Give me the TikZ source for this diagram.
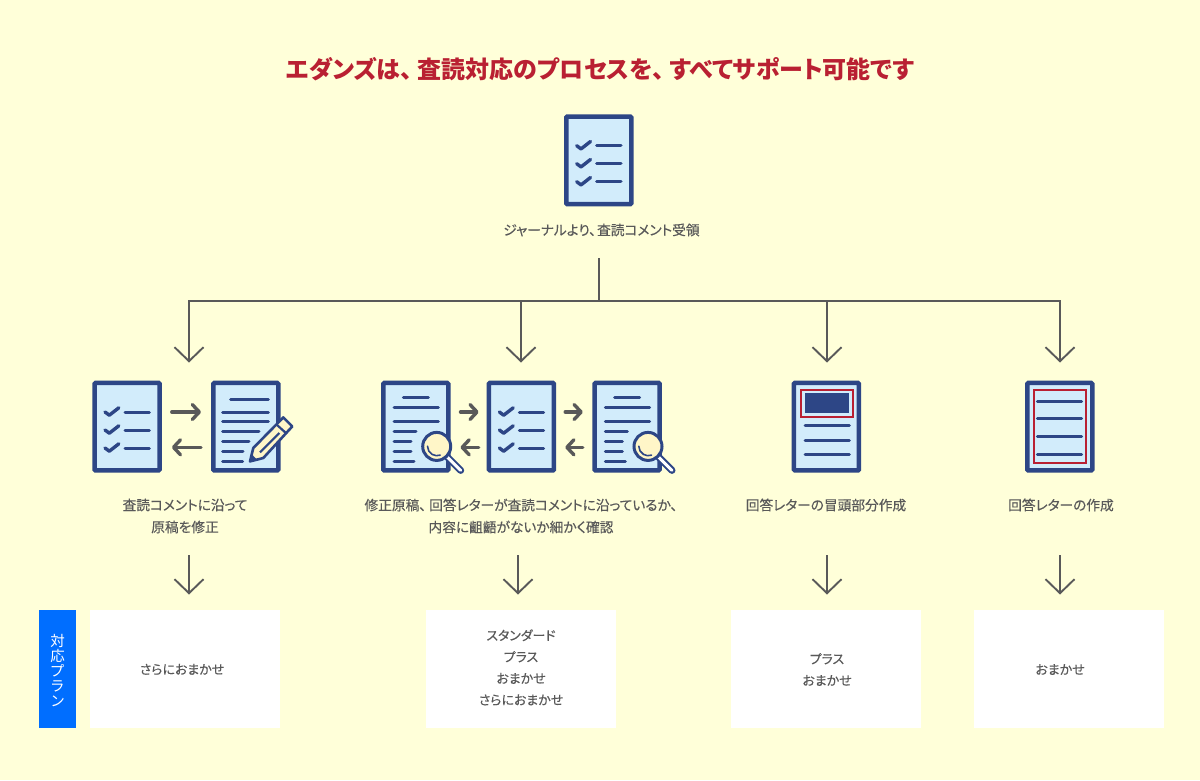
\documentclass[tikz,border=0pt]{standalone}
\usepackage{fontspec}
\setmainfont[RawFeature=+palt]{Noto Sans CJK JP}
\newfontfamily\midfont[RawFeature=+palt,FakeBold=0.25]{Noto Sans CJK JP}
\usetikzlibrary{arrows.meta}
\definecolor{paper}{HTML}{FFFFD9}
\definecolor{navy}{HTML}{2D4686}
\definecolor{sheet}{HTML}{D2ECFB}
\definecolor{crimson}{HTML}{B92032}
\definecolor{ink}{HTML}{595959}
\definecolor{planblue}{HTML}{006EFF}
\definecolor{glass}{HTML}{FFF6C8}
\tikzset{
	docbox/.style={draw=navy, fill=sheet, line width=4.5pt, rounded corners=1pt, minimum width=65pt, minimum height=87.5pt, outer sep=2.25pt, inner sep=0pt},
	docline/.style={draw=navy, line width=3pt, line cap=round, line join=round},
	redframe/.style={draw=crimson, line width=2pt},
	swap/.style={draw=ink, line width=3.4pt, line cap=round, -{Straight Barb[round,length=7pt,width=15pt,line width=3.4pt]}},
	flow/.style={draw=ink, line width=1.9pt, -{Straight Barb[length=14pt,width=29pt,line width=1.9pt]}},
	caption/.style={text=ink, align=center, font=\midfont\fontsize{13.7}{22}\selectfont},
	planbox/.style={fill=white, minimum width=190pt, minimum height=118pt, inner sep=0pt},
	plantext/.style={text=ink, align=center, font=\midfont\fontsize{12.9}{21.5}\selectfont}
}
\def\checklist(#1){\begin{scope}[shift={(#1.north west)}]
	\foreach \rowy in {31.3,49.3,67.3} {
		\draw[docline, line width=3.4pt] (12.7,\rowy) -- (17,\rowy+3.2) -- (26.5,\rowy-4.2);
		\draw[docline] (32.7,\rowy) -- (57,\rowy);
	}
\end{scope}}
\def\lensdoc(#1){\begin{scope}[shift={(#1.north west)}]
	\draw[docline] (22.3,16.7) -- (47.3,16.7);
	\draw[docline] (13,26.7) -- (57.3,26.7);
	\draw[docline] (13,40.3) -- (57.3,40.3);
	\draw[docline] (13,50.3) -- (35,50.3);
	\draw[docline] (13,60.3) -- (30,60.3);
	\draw[docline] (13,70.3) -- (30,70.3);
	\draw[docline] (13,80.3) -- (33,80.3);
	\draw[navy, line width=7pt, line cap=round] (64,74) -- (79.7,89.7);
	\draw[white, line width=3pt, line cap=round] (66,76) -- (79.7,89.7);
	\draw[navy, fill=glass, line width=3pt] (55.7,65.7) circle (14);
	\draw[navy, line width=1.6pt, line cap=round] (46.5,65.5) arc (180:70:9.5);
\end{scope}}
\def\pencildoc(#1){\begin{scope}[shift={(#1.north west)}]
	\draw[docline] (19.7,18.3) -- (57.3,18.3);
	\draw[docline] (11.7,31.3) -- (57.3,31.3);
	\draw[docline] (11.7,41) -- (57.3,41);
	\draw[docline] (11.7,51) -- (48,51);
	\draw[docline] (11.7,60.7) -- (38,60.7);
	\draw[docline] (11.7,70.7) -- (32,70.7);
	\draw[docline] (11.7,80.7) -- (31.6,80.7);
	\draw[navy, fill=glass, line width=2.6pt, line join=round] (72.3,36.7) -- (81.3,45.7) -- (52.3,77.3) -- (39,80.7) -- (42.3,67.3) -- cycle;
	\fill[navy] (39,80.7) -- (46,79) -- (40.8,73.5) -- cycle;
	\draw[navy, line width=2.2pt] (65.7,44) -- (75.7,53);
	\draw[navy, line width=2.2pt] (49,71.7) -- (68.3,52.3);
\end{scope}}

\begin{document}
\begin{tikzpicture}[x=1pt, y=-1pt]
	%%%%% background %%%%%
	\fill[paper] (0,0) rectangle (1200,780);

	\node[text=crimson, font=\fontsize{24}{28}\selectfont\bfseries] (title) at (600,69) {エダンズは、\kern5pt 査読対応のプロセスを、\kern5pt すべてサポート可能です};

	%%%%% documents %%%%%
	\node[docbox] (docRecv) at (598.75,160.4) {};
	\node[docbox] (docA) at (127.05,426.7) {};
	\node[docbox] (docB) at (245.75,426.7) {};
	\node[docbox] (docC) at (415.75,426.7) {};
	\node[docbox] (docD) at (521.45,426.7) {};
	\node[docbox] (docE) at (627.05,426.7) {};
	\node[docbox] (docF) at (826.45,426.7) {};
	\node[docbox] (docG) at (1059.75,426.7) {};

	\checklist(docRecv)
	\checklist(docA)
	\pencildoc(docB)
	\lensdoc(docC)
	\checklist(docD)
	\lensdoc(docE)

	\begin{scope}[shift={(docF.north west)}]
		\fill[navy] (13.3,12.7) rectangle (57.7,32.7);
		\draw[redframe] (9,9.3) rectangle (61.7,36);
		\foreach \rowy in {44.7,59.3,74} {
			\draw[docline] (13.3,\rowy) -- (57.7,\rowy);
		}
	\end{scope}
	\begin{scope}[shift={(docG.north west)}]
		\draw[redframe] (9,9.3) rectangle (61,82.7);
		\foreach \rowy in {20.3,38,56,74} {
			\draw[docline] (12.3,\rowy) -- (56.7,\rowy);
		}
	\end{scope}

	%%%%% arrows between documents %%%%%
	\foreach \from/\to/\gapl/\gapr in {docA/docB/10/10, docC/docD/10/8, docD/docE/9/9.5} {
		\draw[swap] ([shift={(\gapl,31.3)}]\from.north east) -- ([shift={(-\gapr,31.3)}]\to.north west);
		\draw[swap] ([shift={(-\gapr,66.6)}]\to.north west) -- ([shift={(\gapl,66.6)}]\from.north east);
	}

	%%%%% captions %%%%%
	\node[caption] (capRecv) at (601.5,230) {ジャーナルより、\kern1pt 査読コメント受領};
	\node[caption] (capA) at (185,516) {査読コメントに沿って\\原稿を修正};
	\node[caption] (capB) at (521,516) {修正原稿、\kern3pt 回答レターが査読コメントに沿っているか、\\内容に齟齬がないか細かく確認};
	\node[caption] (capC) at (826,505) {回答レターの冒頭部分作成};
	\node[caption] (capD) at (1061,505) {回答レターの作成};

	%%%%% tree %%%%%
	\coordinate (forkTop) at (599,258);
	\coordinate (fork) at (599,301);
	\draw[ink, line width=1.9pt] (forkTop) -- (fork);
	\foreach \name/\x in {A/189, B/521, C/827, D/1060} {
		\coordinate (branch\name) at (\x,301);
		\coordinate (in\name) at (\x,362.5);
		\draw[flow] (branch\name) -- (in\name);
	}
	\draw[ink, line width=1.9pt, line cap=rect] (branchA) -- (branchD);

	%%%%% plans %%%%%
	\node[fill=planblue, minimum width=37pt, minimum height=118pt, inner sep=0pt] (planTag) at (57.5,669) {};
	\node[text=white, align=center, font=\fontsize{14.5}{15}\selectfont] (planTagText) at (57.5,670.5) {対\\応\\プ\\ラ\\ン};
	\node[planbox] (planA) at (185,669) {};
	\node[planbox] (planB) at (521,669) {};
	\node[planbox] (planC) at (826,669) {};
	\node[planbox] (planD) at (1069,669) {};

	\node[plantext] (textA) at (182,669.5) {さらにおまかせ};
	\node[plantext] (textB) at (521,667.5) {スタンダード\\プラス\\おまかせ\\さらにおまかせ};
	\node[plantext] (textC) at (827,669.5) {プラス\\おまかせ};
	\node[plantext] (textD) at (1060,669.5) {おまかせ};

	\foreach \name/\x in {A/189, B/518, C/827, D/1060} {
		\coordinate (out\name) at (\x,555);
		\coordinate (down\name) at (\x,594.5);
		\draw[flow] (out\name) -- (down\name);
	}
\end{tikzpicture}
\end{document}
